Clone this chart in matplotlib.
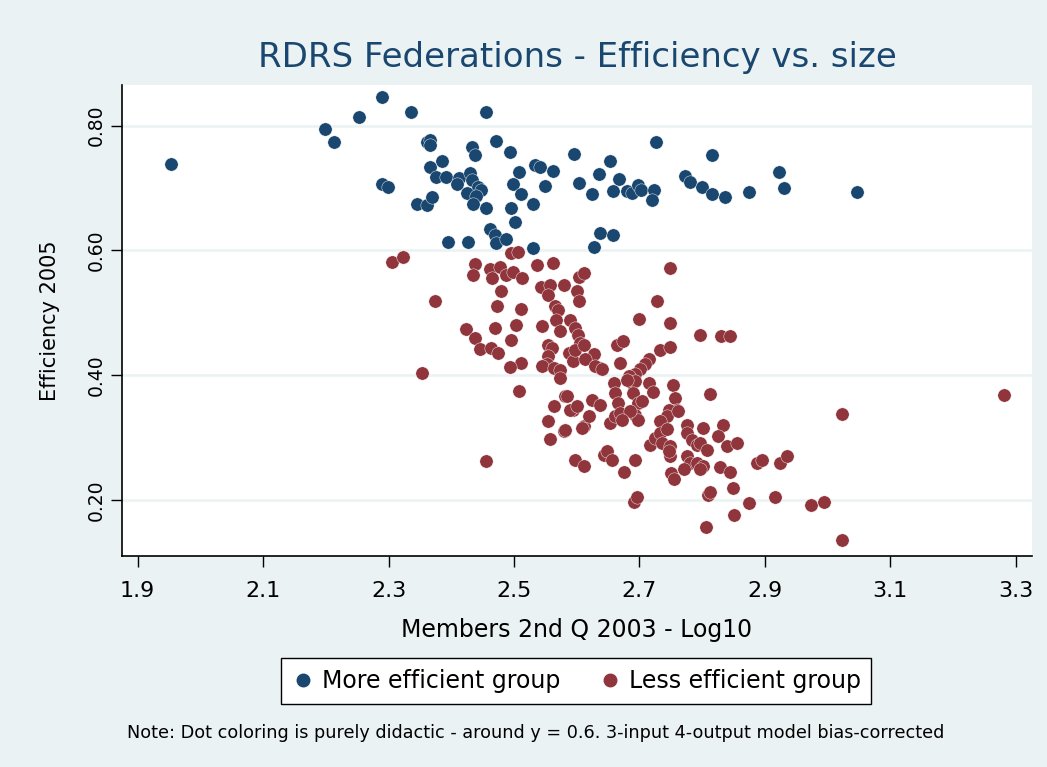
import matplotlib
matplotlib.use("Agg")
import matplotlib.pyplot as plt
from matplotlib.lines import Line2D

plt.rcParams['font.family'] = ['DejaVu Sans']

# more efficient group (blue)
hi_x = [1.953, 2.290, 2.336, 2.253, 2.199, 2.213, 2.290, 2.299, 2.361, 2.366,
        2.366, 2.385, 2.366, 2.375, 2.391, 2.433, 2.438, 2.471, 2.494, 2.412,
        2.409, 2.430, 2.433, 2.443, 2.425, 2.448, 2.439, 2.345, 2.361, 2.370,
        2.435, 2.456, 2.496, 2.502, 2.462, 2.508, 2.499, 2.512, 2.534, 2.542,
        2.562, 2.550, 2.530, 2.596, 2.455, 2.726, 2.815, 2.653, 2.636, 2.667,
        2.604, 2.624, 2.658, 2.680, 2.688, 2.697, 2.702, 2.723, 2.720, 2.773,
        2.781, 2.800, 2.815, 2.837, 2.874, 2.470, 2.472, 2.487, 2.395, 2.427,
        2.530, 2.637, 2.658, 2.628, 2.923, 2.931, 3.047]
hi_y = [0.738, 0.846, 0.822, 0.813, 0.795, 0.773, 0.707, 0.702, 0.774, 0.777,
        0.769, 0.743, 0.733, 0.718, 0.717, 0.765, 0.753, 0.776, 0.757, 0.716,
        0.706, 0.724, 0.713, 0.702, 0.692, 0.697, 0.687, 0.674, 0.673, 0.686,
        0.674, 0.668, 0.668, 0.645, 0.634, 0.725, 0.706, 0.691, 0.737, 0.734,
        0.727, 0.703, 0.674, 0.755, 0.821, 0.773, 0.753, 0.743, 0.723, 0.715,
        0.708, 0.691, 0.695, 0.695, 0.692, 0.705, 0.696, 0.697, 0.680, 0.719,
        0.710, 0.701, 0.691, 0.685, 0.693, 0.625, 0.612, 0.618, 0.614, 0.614,
        0.604, 0.628, 0.625, 0.606, 0.725, 0.700, 0.693]

# less efficient group (red)
lo_x = [2.305, 2.323, 2.374, 2.354, 2.455, 2.438, 2.435, 2.462, 2.465, 2.478,
        2.488, 2.499, 2.513, 2.496, 2.507, 2.536, 2.562, 2.479, 2.473, 2.512,
        2.543, 2.557, 2.555, 2.580, 2.504, 2.545, 2.565, 2.570, 2.567, 2.573,
        2.469, 2.424, 2.438, 2.496, 2.446, 2.463, 2.474, 2.555, 2.560, 2.555,
        2.552, 2.511, 2.493, 2.545, 2.564, 2.573, 2.508, 2.582, 2.564, 2.555,
        2.557, 2.580, 2.603, 2.611, 2.600, 2.603, 2.589, 2.597, 2.602, 2.605,
        2.587, 2.594, 2.597, 2.749, 2.728, 2.700, 2.749, 2.796, 2.830, 2.845,
        2.664, 2.674, 2.733, 2.749, 2.669, 2.716, 2.709, 2.701, 2.693, 2.611,
        2.627, 2.614, 2.637, 2.629, 2.640, 2.659, 2.661, 2.683, 2.688, 2.693,
        2.680, 2.715, 2.722, 2.754, 2.812, 2.757, 2.760, 2.747, 2.744, 2.733,
        2.762, 2.584, 2.594, 2.589, 2.581, 2.611, 2.619, 2.624, 2.637, 2.600,
        2.608, 2.653, 2.661, 2.666, 2.669, 2.690, 2.698, 2.704, 2.693, 2.698,
        2.685, 2.672, 2.776, 2.802, 2.834, 2.776, 2.784, 2.792, 2.797, 2.807,
        2.826, 2.839, 2.855, 2.717, 2.725, 2.733, 2.744, 2.736, 2.749, 2.749,
        2.747, 2.643, 2.648, 2.656, 2.597, 2.611, 2.693, 2.776, 2.781, 2.792,
        2.802, 2.887, 2.895, 2.924, 2.935, 3.282, 3.023, 3.023, 2.973, 2.995,
        2.917, 2.874, 2.851, 2.806, 2.850, 2.810, 2.813, 2.692, 2.696, 2.676,
        2.750, 2.755, 2.771, 2.797, 2.829, 2.844, 2.573]
lo_y = [0.582, 0.589, 0.518, 0.404, 0.263, 0.578, 0.560, 0.570, 0.556, 0.574,
        0.560, 0.565, 0.556, 0.596, 0.597, 0.576, 0.580, 0.535, 0.510, 0.506,
        0.542, 0.545, 0.529, 0.544, 0.481, 0.479, 0.510, 0.505, 0.489, 0.470,
        0.475, 0.474, 0.460, 0.457, 0.442, 0.444, 0.436, 0.449, 0.444, 0.430,
        0.417, 0.420, 0.413, 0.415, 0.411, 0.408, 0.375, 0.367, 0.351, 0.326,
        0.298, 0.311, 0.558, 0.563, 0.535, 0.518, 0.489, 0.475, 0.465, 0.451,
        0.435, 0.422, 0.441, 0.571, 0.518, 0.490, 0.483, 0.465, 0.462, 0.463,
        0.449, 0.454, 0.441, 0.445, 0.419, 0.425, 0.417, 0.409, 0.401, 0.449,
        0.433, 0.425, 0.411, 0.414, 0.410, 0.387, 0.371, 0.398, 0.387, 0.390,
        0.392, 0.387, 0.373, 0.384, 0.370, 0.363, 0.344, 0.344, 0.334, 0.326,
        0.342, 0.366, 0.344, 0.344, 0.312, 0.318, 0.334, 0.360, 0.352, 0.350,
        0.315, 0.323, 0.334, 0.355, 0.339, 0.371, 0.355, 0.358, 0.336, 0.328,
        0.342, 0.328, 0.320, 0.315, 0.320, 0.307, 0.296, 0.288, 0.291, 0.280,
        0.302, 0.286, 0.291, 0.288, 0.299, 0.307, 0.313, 0.291, 0.286, 0.270,
        0.278, 0.272, 0.278, 0.264, 0.264, 0.254, 0.264, 0.270, 0.259, 0.259,
        0.254, 0.259, 0.264, 0.259, 0.270, 0.368, 0.338, 0.135, 0.191, 0.197,
        0.205, 0.195, 0.175, 0.157, 0.219, 0.208, 0.213, 0.197, 0.205, 0.245,
        0.243, 0.233, 0.249, 0.249, 0.252, 0.244, 0.395]

x_ticks = [1.9, 2.1, 2.3, 2.5, 2.7, 2.9, 3.1, 3.3]
y_ticks = [0.20, 0.40, 0.60, 0.80]

navy = '#1a476f'
maroon = '#90353b'
bg = '#eaf2f3'

W, H = 1047, 767
fig = plt.figure(figsize=(W / 100, H / 100), dpi=100, facecolor=bg)
ax = fig.add_axes([122 / W, 1 - 556 / H, (1032 - 122) / W, (556 - 85) / H])
ax.set_facecolor('white')

ax.scatter(hi_x, hi_y, s=92, color=navy, edgecolors='white', linewidths=0.3, zorder=3)
ax.scatter(lo_x, lo_y, s=92, color=maroon, edgecolors='white', linewidths=0.3, zorder=3)

ax.set_xlim(1.875, 3.326)
ax.set_ylim(0.110, 0.865)
ax.set_xticks(x_ticks)
ax.set_xticklabels([f'{v:.1f}' for v in x_ticks], fontsize=16)
ax.set_yticks(y_ticks)
ax.set_yticklabels([f'{v:.2f}' for v in y_ticks], fontsize=13.5, rotation=90, va='center')
ax.yaxis.grid(True, color=bg, linewidth=1.8, zorder=0)
ax.tick_params(axis='x', length=8, width=1, pad=10)
ax.tick_params(axis='y', length=8, width=1, pad=4)

for side in ['top', 'right']:
    ax.spines[side].set_visible(False)
for side in ['left', 'bottom']:
    ax.spines[side].set_linewidth(1.2)

ax.set_xlabel('Members 2nd Q 2003 - Log10', fontsize=17, labelpad=12)
ax.set_ylabel('Efficiency 2005', fontsize=15, labelpad=19)

fig.text(577 / W, 1 - 57 / H, 'RDRS Federations - Efficiency vs. size',
         ha='center', va='center', fontsize=24.5, color=navy)

handles = [Line2D([], [], marker='o', linestyle='none', color=navy, markersize=9),
           Line2D([], [], marker='o', linestyle='none', color=maroon, markersize=9)]
leg = fig.legend(handles, ['More efficient group', 'Less efficient group'],
                 loc='center', bbox_to_anchor=(576 / W, 1 - 681 / H), ncol=2,
                 fontsize=17, frameon=True, fancybox=False, edgecolor='black',
                 facecolor='white', framealpha=1,
                 handletextpad=0.3, columnspacing=1.6, handlelength=1.0,
                 borderpad=0.45)
leg.get_frame().set_linewidth(1.0)

fig.text(127 / W, 1 - 733 / H,
         'Note: Dot coloring is purely didactic - around y = 0.6. 3-input 4-output model bias-corrected',
         ha='left', va='center', fontsize=12.7)

fig.savefig('out.png', dpi=100, facecolor=bg)
